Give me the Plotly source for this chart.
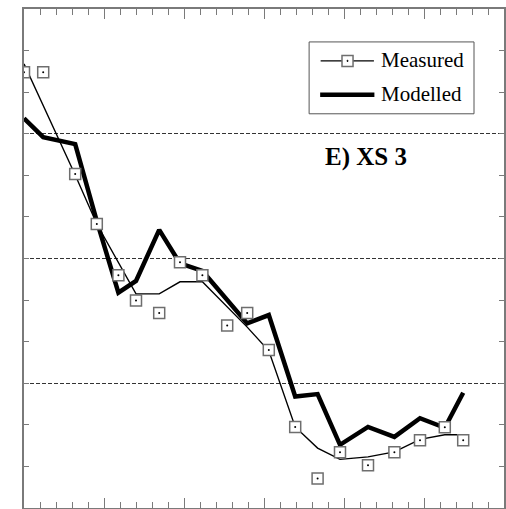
import plotly.graph_objects as go

# Chainage along the cross-section (axis units) and water-surface levels
chainage = [0, 1.2, 3.2, 4.55, 5.9, 7.0, 8.45, 9.75, 11.15, 12.7,
            13.95, 15.3, 16.95, 18.35, 19.75, 21.5, 23.15, 24.75, 26.3, 27.45]
measured = [10.48, 10.48, 8.03, 6.83, 5.60, 4.99, 4.69, 5.91, 5.60, 4.39,
            4.69, 3.80, 1.95, 0.71, 1.34, 1.03, 1.34, 1.63, 1.94, 1.63]
measured_trend = [10.68, 9.69, 8.01, 6.83, 5.92, 5.15, 5.15, 5.44, 5.44, 4.83,
                  4.35, 3.78, 1.95, 1.44, 1.17, 1.23, 1.35, 1.65, 1.76, 1.76]
modelled = [9.37, 8.92, 8.75, 6.90, 5.18, 5.46, 6.69, 5.88, 5.70, 5.00,
            4.44, 4.64, 2.68, 2.74, 1.52, 1.95, 1.71, 2.16, 1.93, 2.77]

panel_title = "E) XS 3"
legend_labels = ["Measured", "Modelled"]

FONT = "Liberation Serif, Times New Roman, serif"
AXIS_GREY = "#7a7a7a"
MARKER_EDGE = "#6e6e6e"

fig = go.Figure()

# thin trend line of the measured profile
fig.add_trace(go.Scatter(x=chainage, y=measured_trend, mode="lines",
                         line=dict(color="black", width=1.4),
                         showlegend=False, hoverinfo="skip"))
# modelled profile
fig.add_trace(go.Scatter(x=chainage, y=modelled, mode="lines",
                         line=dict(color="black", width=4.5),
                         showlegend=False))
# measured points: open squares with a centre dot
fig.add_trace(go.Scatter(x=chainage, y=measured, mode="markers",
                         marker=dict(symbol="square", size=11, color="white",
                                     line=dict(color=MARKER_EDGE, width=1.5)),
                         showlegend=False))
fig.add_trace(go.Scatter(x=chainage, y=measured, mode="markers",
                         marker=dict(symbol="circle", size=2, color="black",
                                     line=dict(width=0)),
                         showlegend=False, hoverinfo="skip"))

# hand-built legend box (paper coordinates)
shapes = [
    dict(type="rect", xref="paper", yref="paper", x0=0.594, x1=0.9375,
         y0=0.790, y1=0.934, line=dict(color="#555", width=1),
         fillcolor="white", layer="above"),
    dict(type="line", xref="paper", yref="paper", x0=0.618, x1=0.729,
         y0=0.896, y1=0.896, line=dict(color="black", width=1.4), layer="above"),
    dict(type="rect", xref="paper", yref="paper", x0=0.674 - 0.0115, x1=0.674 + 0.0115,
         y0=0.896 - 0.011, y1=0.896 + 0.011,
         line=dict(color=MARKER_EDGE, width=1.5), fillcolor="white", layer="above"),
    dict(type="circle", xref="paper", yref="paper", x0=0.674 - 0.0012, x1=0.674 + 0.0012,
         y0=0.896 - 0.0012, y1=0.896 + 0.0012,
         line=dict(color="black", width=1), fillcolor="black", layer="above"),
    dict(type="line", xref="paper", yref="paper", x0=0.617, x1=0.730,
         y0=0.828, y1=0.828, line=dict(color="black", width=4.5), layer="above"),
]

annotations = [
    dict(text=legend_labels[0], xref="paper", yref="paper", x=0.740, y=0.898,
         xanchor="left", yanchor="middle", showarrow=False,
         font=dict(family=FONT, size=21, color="black")),
    dict(text=legend_labels[1], xref="paper", yref="paper", x=0.740, y=0.830,
         xanchor="left", yanchor="middle", showarrow=False,
         font=dict(family=FONT, size=21, color="black")),
    dict(text="<b>" + panel_title + "</b>", xref="paper", yref="paper", x=0.7135, y=0.703,
         xanchor="center", yanchor="middle", showarrow=False,
         font=dict(family=FONT, size=25, color="black")),
]

fig.update_layout(
    width=506, height=509,
    margin=dict(l=24, r=2, t=9, b=1),
    plot_bgcolor="white", paper_bgcolor="white",
    shapes=shapes, annotations=annotations,
    showlegend=False,
    xaxis=dict(range=[0, 30], showticklabels=False, showgrid=False, zeroline=False,
               ticks="inside", tick0=0, dtick=5, ticklen=10, tickwidth=1,
               tickcolor=AXIS_GREY,
               minor=dict(ticks="inside", dtick=1, ticklen=6, tickwidth=1,
                          tickcolor=AXIS_GREY, showgrid=False),
               showline=True, linecolor=AXIS_GREY, linewidth=2, mirror="ticks"),
    yaxis=dict(range=[0, 12], showticklabels=False, zeroline=False,
               showgrid=True, gridcolor="#333", gridwidth=1, griddash="4px,2px",
               ticks="inside", tick0=0, dtick=3, ticklen=5, tickwidth=1,
               tickcolor=AXIS_GREY,
               minor=dict(ticks="inside", dtick=1, ticklen=5, tickwidth=1,
                          tickcolor=AXIS_GREY, showgrid=False),
               showline=True, linecolor=AXIS_GREY, linewidth=2, mirror="ticks"),
)

fig.write_html("out.html")
